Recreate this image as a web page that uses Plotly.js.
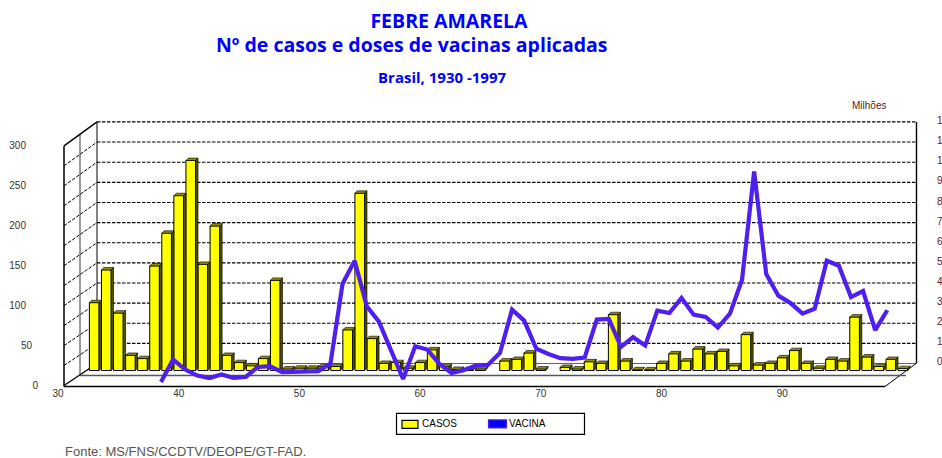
<!DOCTYPE html>
<html><head><meta charset="utf-8">
<script src="https://cdn.plot.ly/plotly-3.0.1.min.js"></script>
<style>html,body{margin:0;padding:0;background:#fff;overflow:hidden}#c{width:942px;height:458px}</style>
</head><body><div id="c"></div>
<script>
// Bar categories as labelled on the chart's axis
const casosAnos = [33,34,35,36,37,38,39,40,41,42,43,44,45,46,47,48,49,50,51,52,53,54,55,56,57,58,59,60,61,62,63,64,65,66,67,68,69,70,71,72,73,74,75,76,77,78,79,80,81,82,83,84,85,86,87,88,89,90,91,92,93,94,95,96,97,98,99,100];
const casos = [85,126,72,19,15,131,172,219,263,133,181,19,10,6,15,113,2,3,3,5,5,51,222,40,9,10,3,10,26,5,1.5,1,2,null,12,14,22,2,null,4,2,11,9,70,12,1,1,9,21,12,27,21,24,6,45,7,9,16,25,9,3,14,12,67,17,5,14,2.5];
const vacinaAnos = [39,40,41,42,43,44,45,46,47,48,49,50,51,52,53,54,55,56,57,58,59,60,61,62,63,64,65,66,67,68,69,70,71,72,73,74,75,76,77,78,79,80,81,82,83,84,85,86,87,88,89,90,91,92,93,94,95,96,97,98,99];
const vacina = [0.17,1.3,0.8,0.5,0.37,0.55,0.38,0.43,0.93,0.97,0.67,0.68,0.68,0.72,1.1,5.1,6.25,3.97,3.2,1.7,0.33,1.97,1.8,1.08,0.63,0.77,1.0,1.03,1.63,3.8,3.25,1.85,1.58,1.37,1.33,1.4,3.3,3.33,1.93,2.42,2.0,3.75,3.63,4.38,3.55,3.43,2.9,3.6,5.3,10.72,5.58,4.5,4.13,3.6,3.85,6.25,6.0,4.43,4.73,2.77,3.77];
const ticksX = [30,40,50,60,70,80,90];
const ticksCasos = [0,50,100,150,200,250,300];
const ticksMilhoes = [0,1,2,3,4,5,6,7,8,9,10,11,12];

// Plot frame in pixels
const W=942,H=458,L=58,R=934,T=100,B=386.5;
const px=x=>(x-L)/(R-L), py=y=>(B-y)/(B-T);
const rangeX=(v0,p0,s)=>[v0-(p0-L)/s, v0+(R-p0)/s];
const rangeY=(v0,p0,s)=>[v0-(B-p0)/s, v0+(p0-T)/s];

const barW=0.8, dx=2.4/12.07, dy=2.4/0.8;
function faces(kind){
  const xs=[],ys=[];
  casos.forEach((v,i)=>{
    if(v==null) return;
    const a=casosAnos[i]-barW/2,b=casosAnos[i]+barW/2;
    if(kind==='top'){xs.push(a,a+dx,b+dx,b,a,null);ys.push(v,v+dy,v+dy,v,v,null);}
    else{xs.push(b,b+dx,b+dx,b,b,null);ys.push(v,v+dy,dy,0,v,null);}
  });
  return {xs,ys};
}
const topF=faces('top'), sideF=faces('side');

const traces=[
 {type:'bar',name:'CASOS',x:casosAnos,y:casos,width:barW,xaxis:'x',yaxis:'y',
  marker:{color:'#ffff00',line:{color:'#000',width:1}}},
 {type:'scatter',mode:'lines',x:sideF.xs,y:sideF.ys,fill:'toself',fillcolor:'#4d4d00',line:{color:'#000',width:0.6},
  hoverinfo:'skip',xaxis:'x',yaxis:'y'},
 {type:'scatter',mode:'lines',x:topF.xs,y:topF.ys,fill:'toself',fillcolor:'#8f8f00',line:{color:'#000',width:0.6},
  hoverinfo:'skip',xaxis:'x',yaxis:'y'},
 {type:'scatter',mode:'lines',name:'VACINA',x:vacinaAnos,y:vacina,xaxis:'x2',yaxis:'y2',
  line:{color:'#4f1ff0',width:4.2,shape:'linear'}}
];

const shapes=[];
const seg=(x0,y0,x1,y1,color,width,dash)=>shapes.push({type:'line',xref:'paper',yref:'paper',layer:'below',
  x0:px(x0),y0:py(y0),x1:px(x1),y1:py(y1),line:{color,width,dash:dash||'solid'}});
ticksMilhoes.forEach(v=>{
  const back=364-20.17*v, front=386-20*v;
  const solid=(v===12||v===0);
  seg(97,back,916,back,v===0?'#666':'#000',1.1,v===0?'solid':'3.5px,1.5px');
  seg(64,front,97,back,'#000',solid?1.4:1,solid?'solid':'3.5px,1.5px');
});
seg(64,146,64,387,'#000',1.5);
seg(80,134,80,376,'#000',0.8);
seg(97,122,97,364,'#000',1);
seg(916.5,122,916.5,364,'#000',1.4);
seg(64,387,885,387,'#000',1.3);
seg(885,387,916,364,'#000',1);
seg(80,376,906,376,'#555',1.6);
// legend box and keys
const box=(x0,y0,x1,y1,fill,color,width)=>shapes.push({type:'rect',xref:'paper',yref:'paper',layer:'above',
  x0:px(x0),y0:py(y0),x1:px(x1),y1:py(y1),fillcolor:fill,line:{color,width}});
box(396.5,414,584.5,435,'#fff','#000',1.2);
box(402,421,418,429,traces[0].marker.color,'#000',1.2);
box(488.5,420.5,506.5,428.5,'#0000ff',traces[3].line.color,1.2);

const tickFont=c=>({family:'Liberation Sans, Arial, sans-serif',size:10,color:c});
const leftAxis=(vals,stand)=>({overlaying:'y',anchor:'free',position:0,side:'left',range:rangeY(0,386,0.8),
  tickmode:'array',tickvals:vals,showgrid:false,zeroline:false,showline:false,ticks:'',
  ticklabelstandoff:stand,tickfont:tickFont('#333')});
const label=(text,x,y,anchor,font)=>({text,xref:'paper',yref:'paper',x:px(x),y:py(y),xanchor:anchor,yanchor:'middle',
  showarrow:false,borderpad:0,font});
const titleFont=s=>({family:'Open Sans, sans-serif',size:s,color:'#0000ff',weight:700});

const layout={
 width:W,height:H,margin:{l:L,r:W-R,t:T,b:H-B,pad:0},paper_bgcolor:'#fff',plot_bgcolor:'rgba(0,0,0,0)',
 showlegend:false,barmode:'overlay',
 title:{text:'FEBRE AMARELA',x:449/W,xanchor:'center',y:1-21/H,yanchor:'middle',font:titleFont(19.5)},
 xaxis:{range:rangeX(30,58,12.07),tickmode:'array',tickvals:ticksX,showgrid:false,zeroline:false,showline:false,ticks:'',
        tickfont:tickFont('#333')},
 yaxis:{range:rangeY(0,371,0.8),visible:false,fixedrange:true},
 xaxis2:{overlaying:'x',range:rangeX(39,161,12.105),visible:false},
 yaxis2:{overlaying:'y',range:rangeY(0,386,20),visible:false},
 yaxis3:{overlaying:'y',side:'right',anchor:'x',range:rangeY(0,362,20.1),tickmode:'array',tickvals:ticksMilhoes,
         showgrid:false,zeroline:false,showline:false,ticks:'',ticklabelstandoff:2,tickfont:tickFont('#5a1a1a')},
 yaxis4:leftAxis(ticksCasos.filter(v=>v>=100),32),
 yaxis5:leftAxis(ticksCasos.filter(v=>v===50),26),
 yaxis6:leftAxis(ticksCasos.filter(v=>v===0),20),
 shapes:shapes,
 annotations:[
  label('Nº de casos e doses de vacinas aplicadas',411,44,'center',titleFont(19.5)),
  label('Brasil, 1930 -1997',442,77,'center',titleFont(15)),
  label('Milhões',851,106,'left',tickFont('#5a1a1a')),
  label('CASOS',421,424,'left',{family:'Liberation Sans, Arial, sans-serif',size:10,color:'#000'}),
  label('VACINA',508,424,'left',{family:'Liberation Sans, Arial, sans-serif',size:10,color:'#000'}),
  label('Fonte: MS/FNS/CCDTV/DEOPE/GT-FAD.',64,452,'left',{family:'Liberation Sans, Arial, sans-serif',size:13,color:'#555'})
 ]
};
['y3','y4','y5','y6'].forEach(a=>traces.push({type:'scatter',mode:'none',x:[],y:[],yaxis:a,xaxis:'x',showlegend:false,hoverinfo:'skip'}));
Plotly.newPlot('c',traces,layout,{displayModeBar:false,staticPlot:true});
</script></body></html>
